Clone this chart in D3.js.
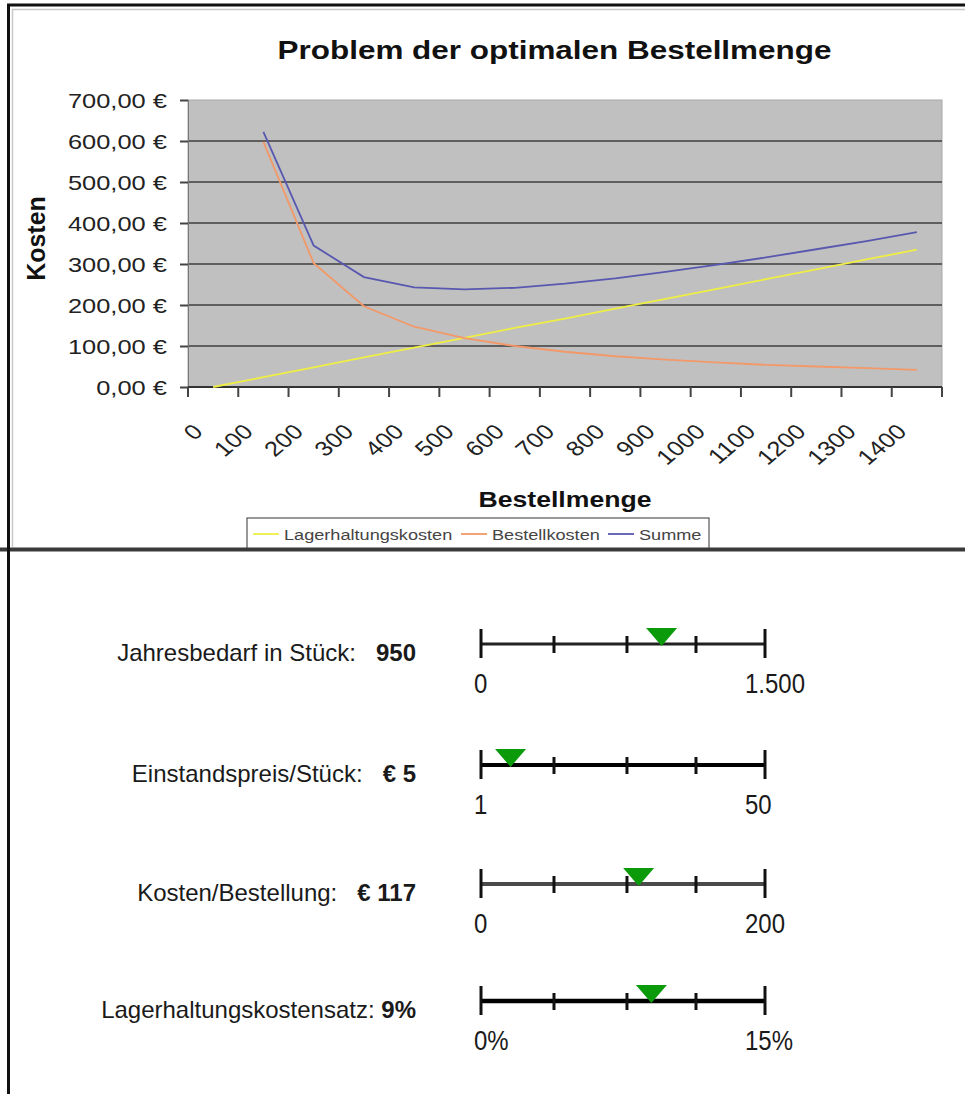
<!DOCTYPE html>
<html><head><meta charset="utf-8">
<script src="https://cdn.jsdelivr.net/npm/d3@7/dist/d3.min.js"></script>
<style>
body{margin:0;background:#fff}
svg{display:block}
text{font-family:"Liberation Sans",Arial,Helvetica,sans-serif}
</style>
</head><body>
<svg id="c" width="965" height="1094"></svg>
<script>
// ---------- data ----------
const categories = ["0","100","200","300","400","500","600","700","800","900","1000","1100","1200","1300","1400"];
const lagerhaltungskosten = [0, 24, 48, 72, 96, 120, 144, 167, 191, 215, 239, 263, 287, 311, 335];
const bestellkosten = [null, 598, 302, 197, 147, 119, 100, 86, 75, 67, 60, 54, 50, 46, 42];
const summe = [null, 622, 345, 268, 243, 238, 242, 252, 265, 281, 298, 316, 336, 356, 378];
const yTicks = [0, 100, 200, 300, 400, 500, 600, 700];
const seriesNames = ["Lagerhaltungskosten", "Bestellkosten", "Summe"];
const seriesColors = ["#eeee44", "#f39868", "#5858b0"];

const sliderLabels = ["Jahresbedarf in Stück:", "Einstandspreis/Stück:", "Kosten/Bestellung:", "Lagerhaltungskostensatz:"];
const sliderGaps = ["\u00a0\u00a0\u00a0", "\u00a0\u00a0\u00a0", "\u00a0\u00a0\u00a0", "\u00a0"];
const sliderValueText = ["950", "€ 5", "€ 117", "9%"];
const sliderMin = [0, 1, 0, 0];
const sliderMax = [1500, 50, 200, 15];
const sliderMinLabels = ["0", "1", "0", "0%"];
const sliderMaxLabels = ["1.500", "50", "200", "15%"];
const sliderThumb = [954, 6.1, 111, 9.0];
const sliderTickFractions = [0.257, 0.514, 0.757];

// ---------- setup ----------
const svg = d3.select("#c");
const SX = 1.21; // horizontal stretch of the chart texts

function label(parent, x, y, str, o) {
  const tr = `translate(${x},${y}) scale(${o.sx || 1},${o.sy || 1})` + (o.rot ? ` rotate(${o.rot})` : "");
  const g = parent.append("g").attr("transform", tr);
  return g.append("text")
    .attr("text-anchor", o.anchor || "start")
    .attr("font-size", o.size)
    .attr("font-weight", o.weight || "normal")
    .attr("fill", o.fill || "#111")
    .text(str);
}

const plot = {left: 188, right: 942, top: 100, bottom: 387};
const x = d3.scaleBand().domain(categories).range([plot.left, plot.right]).padding(0);
const cx = i => x(categories[i]) + x.bandwidth() / 2;
const y = d3.scaleLinear().domain([0, 700]).range([plot.bottom, plot.top]);

// plot background
svg.append("rect").attr("x", plot.left).attr("y", plot.top)
  .attr("width", plot.right - plot.left).attr("height", plot.bottom - plot.top)
  .attr("fill", "#c0c0c0").attr("stroke", "#a8a8a8").attr("stroke-width", 1);

// gridlines
svg.append("g").selectAll("line").data(yTicks.filter(d => d > 0 && d < 700)).join("line")
  .attr("x1", plot.left).attr("x2", plot.right)
  .attr("y1", d => y(d)).attr("y2", d => y(d))
  .attr("stroke", "#5e5e5e").attr("stroke-width", 2);

// y axis
const de = d3.formatLocale({decimal: ",", thousands: ".", grouping: [3], currency: ["", " €"]});
const yAxis = d3.axisLeft(y).tickValues(yTicks).tickSize(8).tickPadding(9.5).tickFormat(de.format("$,.2f"));
const yg = svg.append("g").attr("transform", `translate(${plot.left},0)`).call(yAxis);
yg.select(".domain").attr("stroke", "#777").attr("stroke-width", 1);
yg.selectAll(".tick line").attr("stroke", "#444").attr("stroke-width", 2);
yg.selectAll(".tick text").attr("font-size", 21).attr("fill", "#222")
  .attr("font-family", "Liberation Sans, Arial, sans-serif")
  .attr("dy", "0.38em").attr("transform", `scale(${SX},1)`);

// x axis line + boundary ticks
svg.append("line").attr("x1", plot.left).attr("x2", plot.right)
  .attr("y1", plot.bottom).attr("y2", plot.bottom).attr("stroke", "#333").attr("stroke-width", 2);
const bounds = categories.map(c => x(c)).concat([x(categories[categories.length - 1]) + x.bandwidth()]);
svg.append("g").selectAll("line").data(bounds).join("line")
  .attr("x1", d => d).attr("x2", d => d).attr("y1", plot.bottom).attr("y2", plot.bottom + 10)
  .attr("stroke", "#444").attr("stroke-width", 2);

// x tick labels
const xAxis = d3.axisBottom(x).tickSize(0).tickPadding(0);
const xg = svg.append("g").attr("transform", `translate(0,${plot.bottom})`).call(xAxis);
xg.select(".domain").remove();
xg.selectAll(".tick text").attr("font-size", 21).attr("fill", "#222")
  .attr("font-family", "Liberation Sans, Arial, sans-serif")
  .attr("text-anchor", "end").attr("y", 0).attr("dy", 0)
  .attr("transform", `translate(-9,46) scale(${SX},1) rotate(-45)`);

// series lines
const line = d3.line().defined(d => d != null).x((d, i) => cx(i)).y(d => y(d));
[lagerhaltungskosten, bestellkosten, summe].forEach((s, k) => {
  svg.append("path").datum(s).attr("d", line).attr("fill", "none")
    .attr("stroke", seriesColors[k]).attr("stroke-width", 1.8);
});

// title and axis titles
label(svg, 554.5, 59, "Problem der optimalen Bestellmenge", {size: 26, weight: "bold", anchor: "middle", sx: SX});
label(svg, 565, 507, "Bestellmenge", {size: 22, weight: "bold", anchor: "middle", sx: SX});
label(svg, 45, 238.5, "Kosten", {size: 25, weight: "bold", anchor: "middle", rot: -90});

// legend
svg.append("rect").attr("x", 247).attr("y", 518).attr("width", 462).attr("height", 32)
  .attr("fill", "#fff").attr("stroke", "#333").attr("stroke-width", 1);
const legendX = [253, 461, 608];
seriesNames.forEach((n, k) => {
  svg.append("line").attr("x1", legendX[k]).attr("x2", legendX[k] + 26)
    .attr("y1", 534).attr("y2", 534).attr("stroke", seriesColors[k]).attr("stroke-width", 1.8);
  label(svg, legendX[k] + 31, 540, n, {size: 15, sx: SX, fill: "#444"});
});

// frame
svg.append("line").attr("x1", 12).attr("x2", 965).attr("y1", 9.5).attr("y2", 9.5).attr("stroke", "#c8c8c8").attr("stroke-width", 1.5);
svg.append("line").attr("x1", 12.5).attr("x2", 12.5).attr("y1", 9).attr("y2", 547).attr("stroke", "#c8c8c8").attr("stroke-width", 1.5);
svg.append("line").attr("x1", 7).attr("x2", 965).attr("y1", 5).attr("y2", 5).attr("stroke", "#111").attr("stroke-width", 3);
svg.append("line").attr("x1", 0).attr("x2", 965).attr("y1", 549.5).attr("y2", 549.5).attr("stroke", "#3a3a3a").attr("stroke-width", 4);
svg.append("line").attr("x1", 8.5).attr("x2", 8.5).attr("y1", 4).attr("y2", 1094).attr("stroke", "#111").attr("stroke-width", 3);

// ---------- sliders ----------
const rowY = [644, 765, 884, 1001];
const lineW = [3, 4, 4, 4.5];
const lineC = ["#222", "#000", "#4a4a4a", "#000"];
sliderLabels.forEach((lab, r) => {
  const ly = rowY[r];
  const s = d3.scaleLinear().domain([sliderMin[r], sliderMax[r]]).range([481, 765]);
  const f = d3.scaleLinear().domain([0, 1]).range([481, 765]);
  const g = svg.append("g");
  // text
  const t = g.append("text").attr("x", 416).attr("y", ly + 17).attr("text-anchor", "end")
    .attr("font-size", 24).attr("fill", "#1a1a1a");
  t.append("tspan").text(lab + sliderGaps[r]);
  t.append("tspan").attr("font-weight", "bold").text(sliderValueText[r]);
  // track
  g.append("line").attr("x1", s(sliderMin[r])).attr("x2", s(sliderMax[r]))
    .attr("y1", ly).attr("y2", ly).attr("stroke", lineC[r]).attr("stroke-width", lineW[r]);
  g.selectAll(".cap").data([sliderMin[r], sliderMax[r]]).join("line").attr("class", "cap")
    .attr("x1", d => s(d)).attr("x2", d => s(d)).attr("y1", ly - 15).attr("y2", ly + 14)
    .attr("stroke", "#111").attr("stroke-width", 3);
  g.selectAll(".tk").data(sliderTickFractions).join("line").attr("class", "tk")
    .attr("x1", d => f(d)).attr("x2", d => f(d)).attr("y1", ly - 8).attr("y2", ly + 9)
    .attr("stroke", "#111").attr("stroke-width", 3);
  // thumb
  g.append("path").attr("d", "M-15.5,-16L15.5,-16L0,2Z")
    .attr("transform", `translate(${s(sliderThumb[r])},${ly})`).attr("fill", "#0a9a0a");
  // min/max labels
  label(g, 474, ly + 49, sliderMinLabels[r], {size: 24, sy: 1.12, fill: "#1a1a1a"});
  label(g, 745, ly + 49, sliderMaxLabels[r], {size: 24, sy: 1.12, fill: "#1a1a1a"});
});
</script>
</body></html>
